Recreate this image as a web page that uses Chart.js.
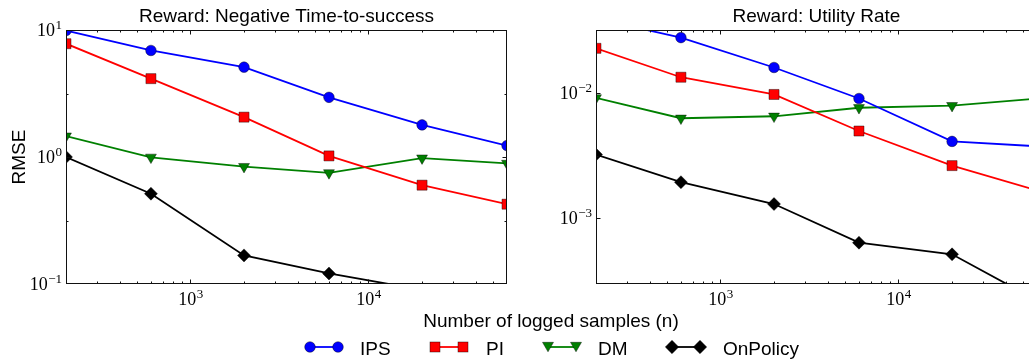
<!DOCTYPE html>
<html>
<head>
<meta charset="utf-8">
<script src="https://cdn.jsdelivr.net/npm/chart.js@4.4.1/dist/chart.umd.min.js"></script>
<style>
  html, body { margin: 0; padding: 0; background: #fff; overflow: hidden; }
  body { width: 1029px; height: 360px; position: relative; }
  .panel { position: absolute; top: 0; height: 312px; }
  #leftPanel { left: 0; width: 520px; }
  #rightPanel { left: 520px; width: 530px; }
  #overlay { position: absolute; left: 0; top: 0; pointer-events: none; }
</style>
</head>
<body>
<div class="panel" id="leftPanel"><canvas id="leftChart"></canvas></div>
<div class="panel" id="rightPanel"><canvas id="rightChart"></canvas></div>
<svg id="overlay" width="1029" height="360">
  <text x="551" y="326.5" text-anchor="middle" font-family="Liberation Sans, Arial, sans-serif" font-size="19" fill="#000">Number of logged samples (n)</text>
  <g id="legend"></g>
</svg>
<script>
// number of logged samples (x axis, log scale)
const sampleSizes = [200, 600, 2000, 6000, 20000, 60000];
const seriesNames = ['IPS', 'PI', 'DM', 'OnPolicy'];

// Reward: Negative Time-to-success (RMSE)
const timeIPS      = [9.9, 6.9, 5.1, 2.95, 1.79, 1.23];
const timePI       = [7.8, 4.14, 2.06, 1.02, 0.60, 0.425];
const timeDM       = [1.46, 0.995, 0.84, 0.75, 0.98, 0.89];
const timeOnPolicy = [1.0, 0.514, 0.168, 0.121, 0.09, 0.05];

// Reward: Utility Rate (RMSE)
const utilIPS      = [0.039, 0.0275, 0.0159, 0.0090, 0.0041, 0.00375];
const utilPI       = [0.0226, 0.0133, 0.0097, 0.00496, 0.00263, 0.00167];
const utilDM       = [0.0091, 0.00627, 0.0065, 0.0076, 0.0079, 0.0090];
const utilOnPolicy = [0.00322, 0.00194, 0.0013, 0.00064, 0.000517, 0.000222];

// tick labels (10^exp)
const xTickValues = [1e3, 1e4];
const xTickExps = ['3', '4'];
const leftYTickValues = [0.1, 1, 10];
const leftYTickExps = ['\u22121', '0', '1'];
const rightYTickValues = [1e-3, 1e-2];
const rightYTickExps = ['\u22123', '\u22122'];

const styles = {
  IPS:      { color: '#0000ff', pointStyle: 'circle',   radius: 5.3, rotation: 0 },
  PI:       { color: '#ff0000', pointStyle: 'rect',     radius: 7.1, rotation: 0 },
  DM:       { color: '#008000', pointStyle: 'triangle', radius: 6.3, rotation: 180 },
  OnPolicy: { color: '#000000', pointStyle: 'rectRot',  radius: 6.5, rotation: 0 }
};

const SANS = 'Liberation Sans, Arial, sans-serif';
const SERIF = 'Liberation Serif, Times New Roman, serif';

// minor ticks: 2..9 on x, half decades on y
const xMinor = [];
[100, 1000, 10000].forEach(d => { for (let m = 2; m <= 9; m++) xMinor.push(m * d); });

function makeDataset(name, values) {
  const s = styles[name];
  return {
    label: name,
    data: sampleSizes.map((x, i) => ({ x: x, y: values[i] })),
    borderColor: s.color,
    backgroundColor: s.color,
    pointBackgroundColor: s.color,
    pointBorderColor: 'rgba(0,0,0,0.7)',
    pointBorderWidth: 0.6,
    pointStyle: s.pointStyle,
    pointRadius: s.radius,
    pointRotation: s.rotation,
    borderWidth: 1.8,
    tension: 0,
    clip: 0
  };
}

// frame, inward tick marks and 10^n labels
const frameTicks = {
  id: 'frameTicks',
  afterDraw(chart, args, opts) {
    const { ctx, chartArea: a } = chart;
    const xs = chart.scales.x, ys = chart.scales.y;
    const L = Math.round(a.left) + 0.5, R = Math.round(a.right) - 0.5;
    const T = Math.round(a.top) + 0.5, B = Math.round(a.bottom) - 0.5;
    ctx.save();
    ctx.strokeStyle = '#111';
    ctx.lineWidth = 1;
    ctx.beginPath();
    const xTick = (v, len) => {
      const p = Math.round(xs.getPixelForValue(v)) + 0.5;
      if (p < L || p > R) return;
      ctx.moveTo(p, B); ctx.lineTo(p, B - len);
      ctx.moveTo(p, T); ctx.lineTo(p, T + len);
    };
    const yTick = (v, len) => {
      const p = Math.round(ys.getPixelForValue(v)) + 0.5;
      if (p < T || p > B) return;
      ctx.moveTo(L, p); ctx.lineTo(L + len, p);
      ctx.moveTo(R, p); ctx.lineTo(R - len, p);
    };
    xMinor.forEach(v => xTick(v, 2));
    xTickValues.forEach(v => xTick(v, 4));
    opts.yMinor.forEach(v => yTick(v, 2));
    opts.yValues.forEach(v => yTick(v, 4));
    ctx.stroke();
    ctx.strokeRect(L, T, R - L, B - T);

    // labels
    ctx.fillStyle = '#000';
    ctx.textBaseline = 'alphabetic';
    ctx.textAlign = 'left';
    const baseFont = '18px ' + SERIF, expFont = '13px ' + SERIF;
    const measure = (exp) => {
      ctx.font = baseFont; const wb = ctx.measureText('10').width;
      ctx.font = expFont; const we = ctx.measureText(exp).width;
      return [wb, we];
    };
    const label = (x0, base, exp) => {
      const [wb] = measure(exp);
      ctx.font = baseFont; ctx.fillText('10', x0, base);
      ctx.font = expFont; ctx.fillText(exp, x0 + wb + 0.5, base - 7);
    };
    opts.yValues.forEach((v, i) => {
      const p = ys.getPixelForValue(v);
      const exp = opts.yExps[i];
      const [wb, we] = measure(exp);
      label(a.left - 4.5 - wb - we, p + 6, exp);
    });
    xTickValues.forEach((v, i) => {
      const p = xs.getPixelForValue(v);
      const exp = xTickExps[i];
      const [wb, we] = measure(exp);
      label(p - (wb + we) / 2, a.bottom + 21, exp);
    });
    ctx.restore();
  }
};

function makeChart(canvasId, title, seriesValues, yMin, yMax, yAxisWidth, showYTitle, yValues, yExps, yMinor) {
  return new Chart(document.getElementById(canvasId).getContext('2d'), {
    type: 'line',
    data: {
      datasets: seriesNames.map((n, i) => makeDataset(n, seriesValues[i]))
    },
    options: {
      responsive: true,
      maintainAspectRatio: false,
      animation: false,
      events: [],
      layout: { padding: { left: 0, right: 13, top: 0, bottom: 0 } },
      plugins: {
        legend: { display: false },
        tooltip: { enabled: false },
        title: {
          display: true,
          text: title,
          fullSize: false,
          color: '#000',
          font: { family: SANS, size: 19, weight: 'normal', lineHeight: 1.2 },
          padding: { top: 5, bottom: 2.2 }
        },
        frameTicks: { yValues: yValues, yExps: yExps, yMinor: yMinor }
      },
      scales: {
        x: {
          type: 'logarithmic',
          min: 200,
          max: 60000,
          grid: { display: false },
          border: { display: false },
          ticks: { display: false },
          afterBuildTicks: s => { s.ticks = xTickValues.map(v => ({ value: v })); },
          afterFit: s => { s.height = 28; }
        },
        y: {
          type: 'logarithmic',
          min: yMin,
          max: yMax,
          grid: { display: false },
          border: { display: false },
          ticks: { display: false },
          title: {
            display: showYTitle,
            text: 'RMSE',
            color: '#000',
            font: { family: SANS, size: 19, weight: 'normal', lineHeight: 1.2 },
            padding: { top: 8.4, bottom: 0 }
          },
          afterBuildTicks: s => { s.ticks = yValues.map(v => ({ value: v })); },
          afterFit: s => { s.width = yAxisWidth; }
        }
      }
    },
    plugins: [frameTicks]
  });
}

makeChart('leftChart', 'Reward: Negative Time-to-success',
  [timeIPS, timePI, timeDM, timeOnPolicy], 0.1, 10, 66, true,
  leftYTickValues, leftYTickExps, [Math.pow(10, -0.5), Math.pow(10, 0.5)]);

makeChart('rightChart', 'Reward: Utility Rate',
  [utilIPS, utilPI, utilDM, utilOnPolicy], Math.pow(10, -3.5), Math.pow(10, -1.5), 76, false,
  rightYTickValues, rightYTickExps, [Math.pow(10, -2.5)]);

// legend: marker-line-marker handles + label
const legendX = [310, 435, 548, 672];
const legendTextX = [360, 486, 598, 723];
const legendY = 347;
const NS = 'http://www.w3.org/2000/svg';
const legend = document.getElementById('legend');
function el(tag, attrs) {
  const e = document.createElementNS(NS, tag);
  Object.keys(attrs).forEach(k => e.setAttribute(k, attrs[k]));
  legend.appendChild(e);
  return e;
}
function marker(name, cx, cy) {
  const c = styles[name].color;
  const common = { fill: c, stroke: 'rgba(0,0,0,0.7)', 'stroke-width': 0.6 };
  if (name === 'IPS') {
    el('circle', Object.assign({ cx: cx, cy: cy, r: 5.3 }, common));
  } else if (name === 'PI') {
    el('rect', Object.assign({ x: cx - 5, y: cy - 5, width: 10, height: 10 }, common));
  } else if (name === 'DM') {
    el('polygon', Object.assign({ points: `${cx - 5.5},${cy - 4.7} ${cx + 5.5},${cy - 4.7} ${cx},${cy + 4.8}` }, common));
  } else {
    el('polygon', Object.assign({ points: `${cx},${cy - 6.7} ${cx + 6.7},${cy} ${cx},${cy + 6.7} ${cx - 6.7},${cy}` }, common));
  }
}
seriesNames.forEach((name, i) => {
  const x0 = legendX[i], x1 = legendX[i] + 28;
  el('line', { x1: x0, y1: legendY, x2: x1, y2: legendY, stroke: styles[name].color, 'stroke-width': 1.8 });
  marker(name, x0, legendY);
  marker(name, x1, legendY);
  const t = el('text', { x: legendTextX[i], y: legendY + 7.5, 'font-family': SANS, 'font-size': 19, fill: '#000' });
  t.textContent = name;
});
</script>
</body>
</html>
